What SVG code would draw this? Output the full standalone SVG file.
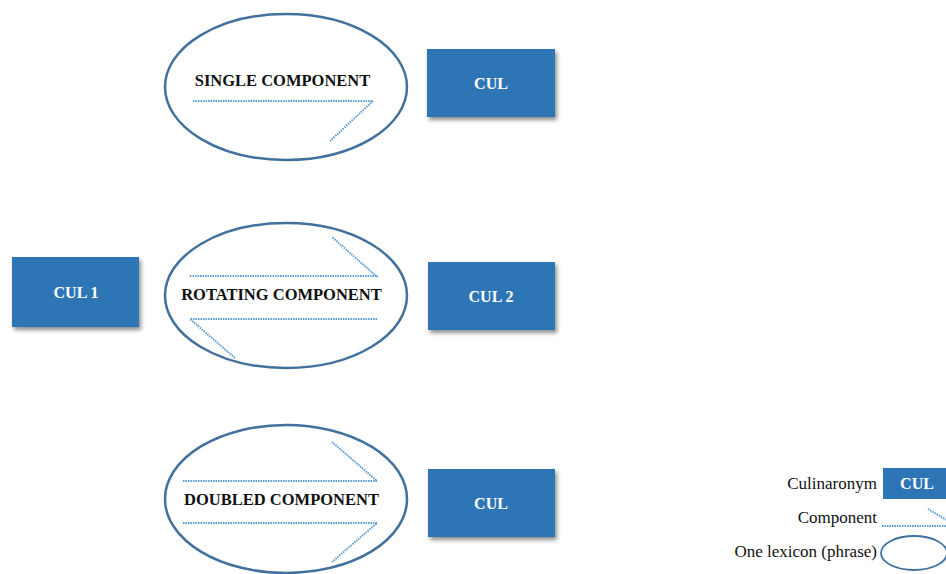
<svg xmlns="http://www.w3.org/2000/svg" width="946" height="574" viewBox="0 0 946 574">
  <defs>
    <filter id="shadow" x="-10%" y="-10%" width="130%" height="140%">
      <feDropShadow dx="2" dy="3" stdDeviation="2" flood-color="#000" flood-opacity="0.45"/>
    </filter>
    <style>
      .box { fill: #2E75B6; filter: url(#shadow); }
      .boxlabel { font-family: "Liberation Serif", "Times New Roman", serif; font-weight: bold; font-size: 16px; fill: #FFFFFF; text-anchor: middle; }
      .lexicon { fill: #FFFFFF; stroke: #41719C; stroke-width: 2.5; }
      .phrase { font-family: "Liberation Serif", "Times New Roman", serif; font-weight: bold; font-size: 16.5px; fill: #111111; text-anchor: middle; }
      .comp { fill: none; stroke: #5B9BD5; stroke-width: 2; stroke-dasharray: 1.5 1; }
      .legend { font-family: "Liberation Serif", "Times New Roman", serif; font-size: 17px; fill: #111111; text-anchor: end; }
    </style>
  </defs>

  <rect width="946" height="574" fill="#FFFFFF"/>

  <!-- lexicon ellipses with their inner text -->
  <g id="single">
    <ellipse class="lexicon" cx="286" cy="87" rx="121" ry="73"/>
    <text class="phrase" x="282.5" y="86">SINGLE COMPONENT</text>
  </g>
  <g id="rotating">
    <ellipse class="lexicon" cx="286" cy="295.5" rx="121" ry="72.5"/>
    <text class="phrase" x="281.5" y="300">ROTATING COMPONENT</text>
  </g>
  <g id="doubled">
    <ellipse class="lexicon" cx="286" cy="499" rx="121" ry="74"/>
    <text class="phrase" x="281.5" y="505">DOUBLED COMPONENT</text>
  </g>

  <!-- culinaronym boxes -->
  <g id="cul-top">
    <rect class="box" x="427" y="49" width="128" height="68"/>
    <text class="boxlabel" x="491" y="89">CUL</text>
  </g>
  <g id="cul-1">
    <rect class="box" x="12" y="257" width="127" height="70"/>
    <text class="boxlabel" x="76" y="298">CUL 1</text>
  </g>
  <g id="cul-2">
    <rect class="box" x="428" y="262" width="127" height="68"/>
    <text class="boxlabel" x="491" y="302">CUL 2</text>
  </g>
  <g id="cul-bottom">
    <rect class="box" x="428" y="469" width="127" height="68"/>
    <text class="boxlabel" x="491" y="509">CUL</text>
  </g>

  <!-- component arrows (dotted) -->
  <g id="components">
    <path class="comp" d="M193 101 H373 L330 141"/>
    <path class="comp" d="M190 276 H376 L332 237"/>
    <path class="comp" d="M377 319 H190 L235 358"/>
    <path class="comp" d="M183 481 H377 L332 442"/>
    <path class="comp" d="M183 523 H377 L332 562"/>
  </g>

  <!-- legend -->
  <g id="legend">
    <text class="legend" x="877" y="489">Culinaronym</text>
    <rect x="883" y="468" width="70" height="31" fill="#2E75B6"/>
    <text class="boxlabel" x="917" y="489">CUL</text>
    <text class="legend" x="877" y="523">Component</text>
    <path class="comp" d="M882 526 H946"/>
    <path class="comp" d="M928 509 L950 522"/>
    <text class="legend" x="877" y="557">One lexicon (phrase)</text>
    <ellipse cx="914" cy="553" rx="33" ry="17" fill="#FFFFFF" stroke="#41719C" stroke-width="1.8"/>
  </g>
</svg>
